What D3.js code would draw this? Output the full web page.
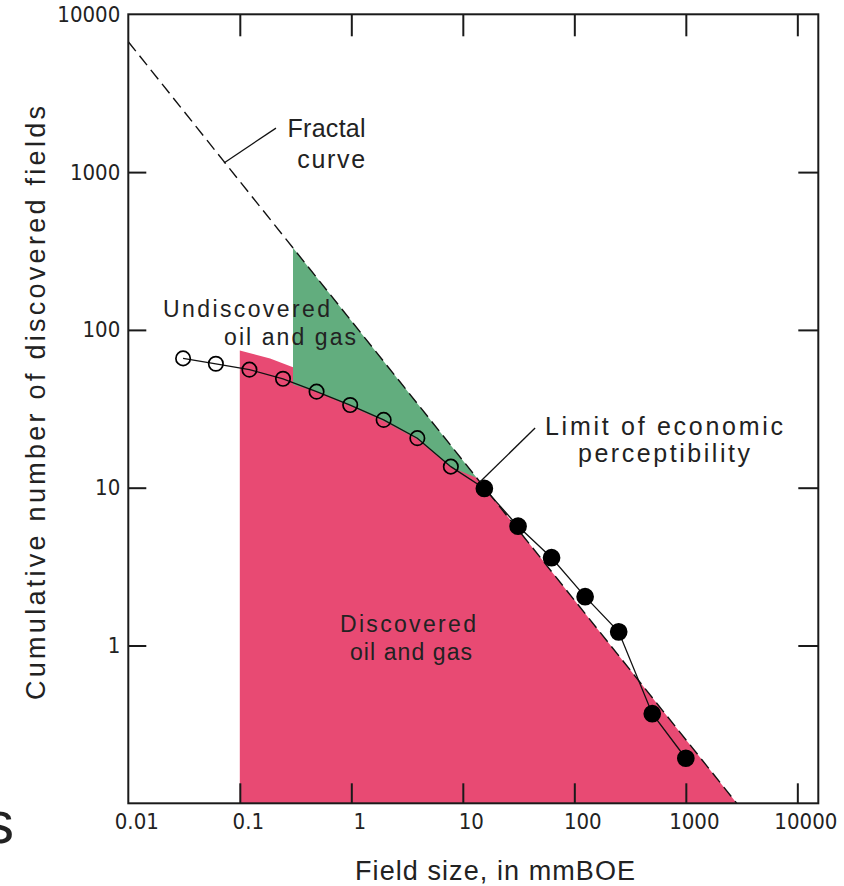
<!DOCTYPE html>
<html>
<head>
<meta charset="utf-8">
<script src="https://cdn.jsdelivr.net/npm/d3@7"></script>
<style>
  html, body { margin: 0; padding: 0; background: #fff; }
  svg { display: block; }
  .tick text { font-family: "Liberation Sans Narrow", "DejaVu Sans Condensed", "Liberation Sans", sans-serif; font-size: 22px; fill: #222; }
  .label { font-family: "Liberation Sans", Arial, sans-serif; fill: #222; }
</style>
</head>
<body>
<svg id="chart" width="844" height="886"></svg>
<script>
// Field-size classes (mmBOE, doubling) and cumulative number of discovered fields
const fieldSize = [0.031, 0.061, 0.122, 0.244, 0.488, 0.977, 1.95, 3.91, 7.81, 15.6, 31.3, 62.5, 125, 250, 500, 1000];
const cumulativeFields = [66, 61, 56, 49, 40.6, 33.4, 26.9, 20.6, 13.6, 9.9, 5.7, 3.6, 2.04, 1.22, 0.37, 0.193];
// below the limit of economic perceptibility the points are open circles
const pointType = ["open", "open", "open", "open", "open", "open", "open", "open", "open",
                   "filled", "filled", "filled", "filled", "filled", "filled", "filled"];

// Fractal (straight log-log) curve end points
const fractalSize = [0.01, 2860];
const fractalCount = [6700, 0.1];

// Discovered oil and gas: upper edge of the shaded region
const discoveredSize = [0.1, 0.187, 0.3, 0.5, 1, 2, 4, 8, 13.3, 2860];
const discoveredCount = [74, 66, 58, 46, 36, 28, 21, 14.6, 11.56, 0.1];

// Undiscovered oil and gas: lower edge, closed along the fractal curve
const undiscoveredSize = [0.3, 0.3, 0.488, 0.977, 1.95, 3.91, 7.81, 13.3];
const undiscoveredCount = [331, 45, 40.6, 33, 26.5, 20.3, 13.5, 11.56];

// Axis ticks
const xTickValues = [0.01, 0.1, 1, 10, 100, 1000, 10000];
const xTickLabels = ["0.01", "0.1", "1", "10", "100", "1000", "10000"];
const yTickValues = [1, 10, 100, 1000, 10000];
const yTickLabels = ["1", "10", "100", "1000", "10000"];

const svg = d3.select("#chart");
const plotLeft = 128.3, plotRight = 818.3, plotTop = 14.3, plotBottom = 803.3;

const x = d3.scaleLog().domain([0.01, 15420]).range([plotLeft, plotRight]);
const y = d3.scaleLog().domain([0.1, 10000]).range([plotBottom, plotTop]);

const pink = "#e84a73";
const green = "#62ad7e";

// shaded regions
const area = d3.area()
  .x((d) => x(d[0]))
  .y0(y(0.1))
  .y1((d) => y(d[1]));
svg.append("path")
  .datum(discoveredSize.map((s, i) => [s, discoveredCount[i]]))
  .attr("d", area)
  .attr("fill", pink);

const poly = d3.line().x((d) => x(d[0])).y((d) => y(d[1]));
svg.append("path")
  .datum(undiscoveredSize.map((s, i) => [s, undiscoveredCount[i]]))
  .attr("d", (d) => poly(d) + "Z")
  .attr("fill", green);

// fractal curve
svg.append("path")
  .datum(fractalSize.map((s, i) => [s, fractalCount[i]]))
  .attr("d", poly)
  .attr("fill", "none")
  .attr("stroke", "#111")
  .attr("stroke-width", 1.4)
  .attr("stroke-dasharray", "12,6");

// axes with inward ticks
const gx = svg.append("g").attr("transform", `translate(0,${plotBottom})`)
  .call(d3.axisBottom(x).tickValues(xTickValues).tickSizeInner(-20).tickSizeOuter(0)
    .tickPadding(10).tickFormat((d, i) => xTickLabels[i]));
gx.selectAll("text").attr("dx", 8);
const gxt = svg.append("g").attr("transform", `translate(0,${plotTop})`)
  .call(d3.axisTop(x).tickValues(xTickValues.slice(1)).tickSizeInner(-22).tickSizeOuter(0).tickFormat(""));
const gy = svg.append("g").attr("transform", `translate(${plotLeft},0)`)
  .call(d3.axisLeft(y).tickValues(yTickValues).tickSizeInner(-18).tickSizeOuter(0)
    .tickPadding(8).tickFormat((d, i) => yTickLabels[i]));
const gyr = svg.append("g").attr("transform", `translate(${plotRight},0)`)
  .call(d3.axisRight(y).tickValues(yTickValues.slice(0, 4)).tickSizeInner(-20).tickSizeOuter(0).tickFormat(""));
[gx, gxt, gy, gyr].forEach((g) => {
  g.select(".domain").remove();
  g.selectAll("line").attr("stroke", "#1a1a1a").attr("stroke-width", 2);
});
gy.selectAll(".tick").filter((d) => d === 10000).select("line").remove();
gx.selectAll(".tick").filter((d) => d === 0.01).select("line").remove();

// frame
svg.append("rect")
  .attr("x", plotLeft).attr("y", plotTop)
  .attr("width", plotRight - plotLeft).attr("height", plotBottom - plotTop)
  .attr("fill", "none").attr("stroke", "#1a1a1a").attr("stroke-width", 2);

// observed points
const pts = fieldSize.map((s, i) => ({ s, c: cumulativeFields[i], t: pointType[i] }));
svg.append("path")
  .datum(pts.map((p) => [p.s, p.c]))
  .attr("d", poly)
  .attr("fill", "none").attr("stroke", "#111").attr("stroke-width", 1.3);
svg.selectAll("circle.pt").data(pts).join("circle")
  .attr("class", "pt")
  .attr("cx", (d) => x(d.s)).attr("cy", (d) => y(d.c))
  .attr("r", (d) => d.t === "open" ? 7.2 : 8)
  .attr("fill", (d) => d.t === "open" ? "none" : "#000")
  .attr("stroke", "#000").attr("stroke-width", 1.7);

// leader lines
const leaders = [
  { from: [0.211, 1900], to: [0.0721, 1143] },
  { from: [44.5, 23.9], to: [14.3, 10.9] }
];
svg.selectAll("line.leader").data(leaders).join("line")
  .attr("class", "leader")
  .attr("x1", (d) => x(d.from[0])).attr("y1", (d) => y(d.from[1]))
  .attr("x2", (d) => x(d.to[0])).attr("y2", (d) => y(d.to[1]))
  .attr("stroke", "#111").attr("stroke-width", 1.3);

// annotation text: [text, size, count, font size, width, colour]
const notes = [
  ["Fractal", 0.6, 1668, 25, 78, "#222"],
  ["curve", 0.66, 1062, 25, 68, "#222"],
  ["Undiscovered", 0.1148, 121, 23, 167, "#222"],
  ["oil and gas", 0.282, 80.2, 23, 132, "#222"],
  ["Limit of economic", 637, 21.6, 25, 238, "#222"],
  ["perceptibility", 637, 14.5, 25, 172, "#222"],
  ["Discovered", 3.22, 1.218, 23, 136, "#3a1520"],
  ["oil and gas", 3.43, 0.809, 23, 122, "#3a1520"]
];
svg.selectAll("text.note").data(notes).join("text")
  .attr("class", "label note")
  .attr("x", (d) => x(d[1])).attr("y", (d) => y(d[2]))
  .attr("text-anchor", "middle")
  .attr("font-size", (d) => d[3])
  .attr("textLength", (d) => d[4])
  .attr("lengthAdjust", "spacing")
  .attr("fill", (d) => d[5])
  .text((d) => d[0]);

// axis titles
svg.append("text").attr("class", "label")
  .attr("x", 495).attr("y", 880)
  .attr("text-anchor", "middle").attr("font-size", 27)
  .attr("textLength", 280).attr("lengthAdjust", "spacing")
  .text("Field size, in mmBOE");
svg.append("text").attr("class", "label")
  .attr("transform", "translate(45,403) rotate(-90)")
  .attr("text-anchor", "middle").attr("font-size", 27)
  .attr("textLength", 594).attr("lengthAdjust", "spacing")
  .text("Cumulative number of discovered fields");

// stray glyph at the left margin
svg.append("text").attr("class", "label")
  .attr("x", -16).attr("y", 843)
  .attr("font-size", 60).attr("fill", "#111")
  .text("s");
</script>
</body>
</html>
